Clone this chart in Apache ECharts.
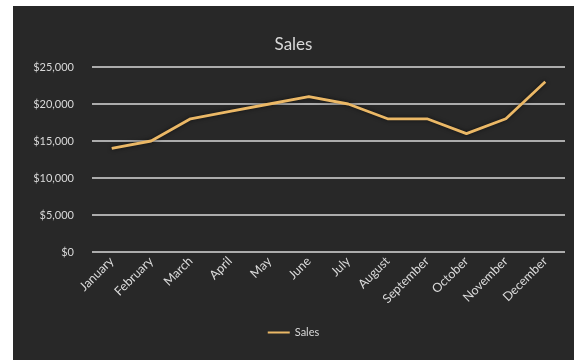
<!DOCTYPE html>
<html>
<head>
<meta charset="utf-8">
<script src="https://cdn.jsdelivr.net/npm/echarts@6/dist/echarts.min.js"></script>
<style>
html,body{margin:0;padding:0;background:#fff;width:574px;height:360px;overflow:hidden;}
#c{position:absolute;left:13px;top:6px;width:561px;height:354px;}
</style>
</head>
<body>
<div id="c"></div>
<script>
const categories = ["January","February","March","April","May","June","July","August","September","October","November","December"];
const salesValues = [14000,15000,18000,19000,20000,21000,20000,18000,18000,16000,18000,23000];
const yTicks = [0,5000,10000,15000,20000,25000];

const chart = echarts.init(document.getElementById('c'), null, {renderer:'canvas'});
chart.setOption({
  backgroundColor:'#282828',
  animation:false,
  title:{text:'Sales',left:'center',top:25,textStyle:{color:'#d9d9d9',fontSize:17,fontWeight:'normal',fontFamily:'Lato'}},
  legend:{bottom:17,left:'center',itemWidth:22,itemHeight:10,itemGap:4,icon:'path://M0,4 L22,4 L22,6 L0,6 Z',
    textStyle:{color:'#d9d9d9',fontSize:11,fontFamily:'Lato'},data:['Sales']},
  grid:{left:79,right:9,top:61,bottom:108},
  xAxis:{type:'category',data:categories,boundaryGap:true,
    axisLine:{show:false},axisTick:{show:false},
    axisLabel:{rotate:45,color:'#d9d9d9',fontSize:12.5,fontFamily:'Lato',margin:7,interval:0}},
  yAxis:{type:'value',min:yTicks[0],max:yTicks[yTicks.length-1],interval:5000,
    axisLine:{show:false},axisTick:{show:false},
    axisLabel:{color:'#d9d9d9',fontSize:11,fontFamily:'Lato',margin:18,
      formatter:v=>'$'+v.toLocaleString('en-US')},
    splitLine:{lineStyle:{color:'#d9d9d9',width:1.5}}},
  series:[{name:'Sales',type:'line',data:salesValues,symbol:'none',
    lineStyle:{color:'#ebb866',width:2.8,shadowColor:'rgba(0,0,0,0.6)',shadowBlur:4},
    itemStyle:{color:'#ebb866'}}]
});
</script>
</body>
</html>
